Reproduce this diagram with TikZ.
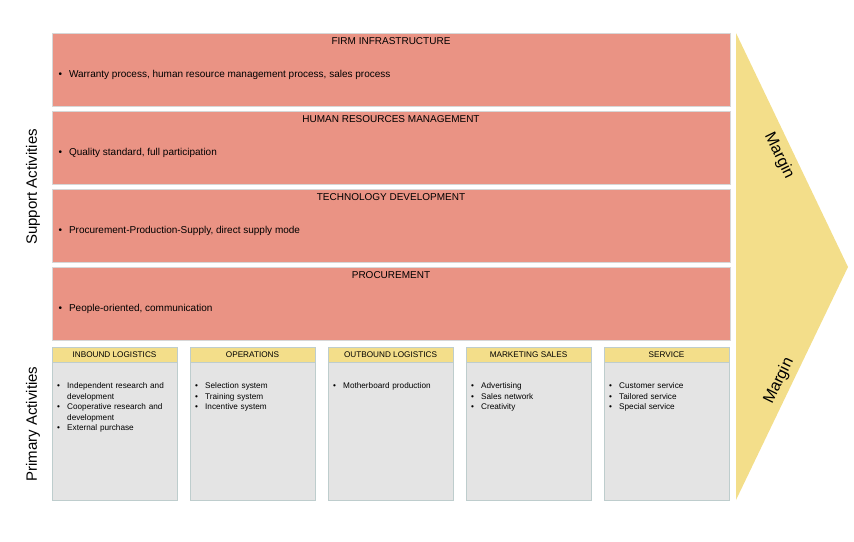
\documentclass[tikz,border=0pt]{standalone}
\usepackage{fontspec}
\setmainfont{Liberation Sans}
\definecolor{supc}{RGB}{234,147,132}
\definecolor{supd}{RGB}{215,215,215}
\definecolor{primc}{RGB}{228,228,228}
\definecolor{primd}{RGB}{190,205,205}
\definecolor{yel}{RGB}{243,222,138}
\newcommand{\bi}[1]{\par\hangindent=10pt\hangafter=1\makebox[10pt][l]{\textbullet}#1}
\begin{document}
\begin{tikzpicture}[x=1pt,y=-1pt,
  sup/.style={fill=supc, draw=supd, line width=0.6pt},
  prim/.style={fill=primc, draw=primd, line width=0.6pt},
  hdr/.style={fill=yel, draw=primd, line width=0.6pt},
  ttl/.style={font=\fontsize{10}{12}\selectfont, anchor=north},
  blt/.style={font=\fontsize{10}{12}\selectfont, anchor=west},
  ph/.style={font=\fontsize{8.2}{9}\selectfont},
  pl/.style={font=\fontsize{8.2}{10.5}\selectfont, anchor=north west, text width=108pt, align=left, inner sep=0pt},
  side/.style={font=\fontsize{15}{17}\selectfont, rotate=90},
  mg/.style={font=\fontsize{16}{18}\selectfont}]
\useasboundingbox (0,0) rectangle (854,541);
\fill[yel] (736,33) -- (848,267) -- (736,500) -- cycle;
\node[mg, rotate=-64] (m1) at (779,156) {Margin};
\node[mg, rotate=64] (m2) at (779,381) {Margin};
\foreach \y/\t/\b [count=\i] in {33/FIRM INFRASTRUCTURE/{Warranty process, human resource management process, sales process},
  111/HUMAN RESOURCES MANAGEMENT/{Quality standard, full participation},
  189/TECHNOLOGY DEVELOPMENT/{Procurement-Production-Supply, direct supply mode},
  267/PROCUREMENT/{People-oriented, communication}}{
  \draw[sup] (52,\y) rectangle (730,\y+73);
  \node[ttl] (t\i) at (391,\y+1) {\t};
  \node[blt] (b\i) at (55,\y+42) {\textbullet\hspace{7pt}\b};
}
\node[side] (sa) at (33,187) {Support Activities};
\node[side] (pa) at (33,424) {Primary Activities};
\foreach \x/\h/\l [count=\i] in {
  52/INBOUND LOGISTICS/{\bi{Independent research and development}\bi{Cooperative research and development}\bi{External purchase}},
  190/OPERATIONS/{\bi{Selection system}\bi{Training system}\bi{Incentive system}},
  328/OUTBOUND LOGISTICS/{\bi{Motherboard production}},
  466/MARKETING SALES/{\bi{Advertising}\bi{Sales network}\bi{Creativity}},
  604/SERVICE/{\bi{Customer service}\bi{Tailored service}\bi{Special service}}}{
  \draw[prim] (\x,347) rectangle (\x+125,500);
  \draw[hdr] (\x,347) rectangle (\x+125,362);
  \node[ph] (h\i) at (\x+62.5,354.5) {\h};
  \node[pl] (l\i) at (\x+5,378) {\l};
}
\end{tikzpicture}
\end{document}
